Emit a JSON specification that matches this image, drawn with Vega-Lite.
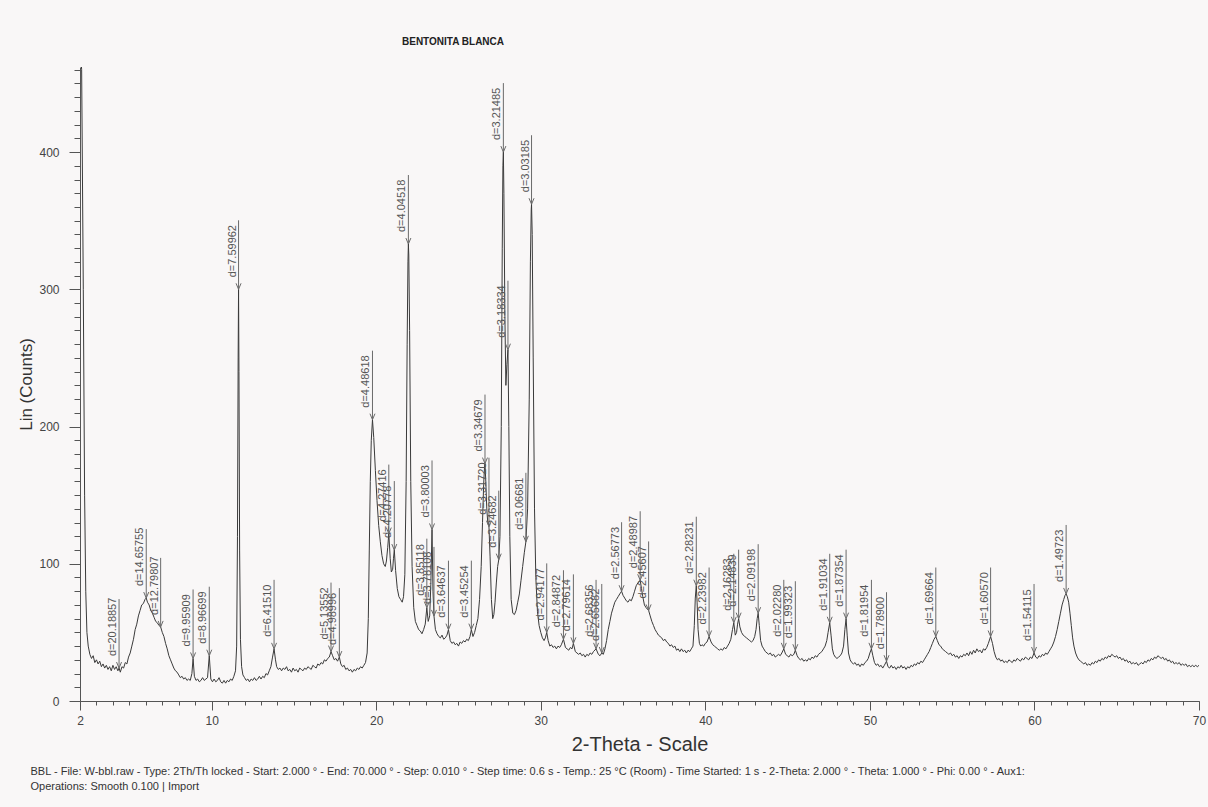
{
  "$schema": "https://vega.github.io/schema/vega-lite/v6.json",
  "width": 1119,
  "height": 634,
  "autosize": {"type": "none"},
  "padding": {"left": 80, "top": 67, "right": 9, "bottom": 106},
  "background": "#f9f7f7",
  "title": {"text": "BENTONITA BLANCA", "frame": "group", "anchor": "start", "dx": 322, "offset": 20, "fontSize": 10, "fontWeight": "bold", "font": "Liberation Sans", "color": "#222"},
  "datasets": {
    "scan": [
      {"t":2.0,"c":480},{"t":2.1,"c":460},{"t":2.2,"c":300},{"t":2.28,"c":150},{"t":2.35,"c":80},{"t":2.42,"c":50},{"t":2.5,"c":40},{"t":2.6,"c":34},{"t":2.7,"c":31},{"t":2.8,"c":33},{"t":2.9,"c":28},{"t":3.0,"c":30},{"t":3.1,"c":27},{"t":3.2,"c":29},{"t":3.3,"c":25},{"t":3.4,"c":27},{"t":3.5,"c":24},{"t":3.6,"c":26},{"t":3.7,"c":23},{"t":3.8,"c":25},{"t":3.9,"c":22},{"t":4.0,"c":26},{"t":4.1,"c":23},{"t":4.2,"c":25},{"t":4.3,"c":22},{"t":4.373,"c":24},{"t":4.45,"c":21},{"t":4.55,"c":25},{"t":4.65,"c":24},{"t":4.75,"c":28},{"t":4.85,"c":27},{"t":4.95,"c":32},{"t":5.05,"c":35},{"t":5.15,"c":40},{"t":5.25,"c":45},{"t":5.35,"c":52},{"t":5.45,"c":56},{"t":5.55,"c":62},{"t":5.65,"c":66},{"t":5.75,"c":70},{"t":5.85,"c":71},{"t":5.95,"c":74},{"t":6.025,"c":75},{"t":6.1,"c":72},{"t":6.2,"c":70},{"t":6.3,"c":66},{"t":6.4,"c":64},{"t":6.5,"c":61},{"t":6.6,"c":58},{"t":6.7,"c":57},{"t":6.8,"c":55},{"t":6.901,"c":54},{"t":7.0,"c":50},{"t":7.1,"c":47},{"t":7.2,"c":42},{"t":7.3,"c":38},{"t":7.4,"c":33},{"t":7.5,"c":30},{"t":7.6,"c":27},{"t":7.7,"c":24},{"t":7.8,"c":22},{"t":7.9,"c":21},{"t":8.0,"c":19},{"t":8.1,"c":17},{"t":8.2,"c":18},{"t":8.3,"c":16},{"t":8.4,"c":17},{"t":8.5,"c":15},{"t":8.6,"c":16},{"t":8.7,"c":15},{"t":8.8,"c":20},{"t":8.872,"c":31},{"t":8.95,"c":18},{"t":9.05,"c":15},{"t":9.15,"c":16},{"t":9.25,"c":14},{"t":9.35,"c":15},{"t":9.45,"c":17},{"t":9.55,"c":15},{"t":9.65,"c":16},{"t":9.75,"c":17},{"t":9.856,"c":33},{"t":9.95,"c":16},{"t":10.05,"c":14},{"t":10.15,"c":16},{"t":10.25,"c":14},{"t":10.35,"c":15},{"t":10.45,"c":17},{"t":10.55,"c":14},{"t":10.65,"c":13},{"t":10.75,"c":15},{"t":10.85,"c":13},{"t":10.95,"c":15},{"t":11.05,"c":14},{"t":11.15,"c":16},{"t":11.25,"c":15},{"t":11.35,"c":18},{"t":11.45,"c":22},{"t":11.52,"c":40},{"t":11.57,"c":120},{"t":11.61,"c":250},{"t":11.635,"c":300},{"t":11.66,"c":240},{"t":11.7,"c":110},{"t":11.75,"c":45},{"t":11.82,"c":25},{"t":11.9,"c":19},{"t":12.0,"c":17},{"t":12.1,"c":15},{"t":12.2,"c":16},{"t":12.3,"c":14},{"t":12.4,"c":16},{"t":12.5,"c":15},{"t":12.6,"c":17},{"t":12.7,"c":15},{"t":12.8,"c":16},{"t":12.9,"c":18},{"t":13.0,"c":16},{"t":13.1,"c":18},{"t":13.2,"c":17},{"t":13.3,"c":20},{"t":13.4,"c":19},{"t":13.5,"c":22},{"t":13.6,"c":25},{"t":13.7,"c":32},{"t":13.793,"c":38},{"t":13.88,"c":30},{"t":13.95,"c":25},{"t":14.05,"c":23},{"t":14.15,"c":24},{"t":14.25,"c":22},{"t":14.35,"c":24},{"t":14.45,"c":23},{"t":14.55,"c":25},{"t":14.65,"c":22},{"t":14.75,"c":23},{"t":14.85,"c":21},{"t":14.95,"c":24},{"t":15.05,"c":22},{"t":15.15,"c":23},{"t":15.25,"c":21},{"t":15.35,"c":24},{"t":15.45,"c":23},{"t":15.55,"c":22},{"t":15.65,"c":24},{"t":15.75,"c":23},{"t":15.85,"c":25},{"t":15.95,"c":24},{"t":16.05,"c":23},{"t":16.15,"c":26},{"t":16.25,"c":25},{"t":16.35,"c":24},{"t":16.45,"c":27},{"t":16.55,"c":26},{"t":16.65,"c":28},{"t":16.75,"c":27},{"t":16.85,"c":30},{"t":16.95,"c":29},{"t":17.05,"c":31},{"t":17.15,"c":32},{"t":17.253,"c":36},{"t":17.35,"c":33},{"t":17.45,"c":30},{"t":17.55,"c":31},{"t":17.65,"c":29},{"t":17.76,"c":32},{"t":17.85,"c":27},{"t":17.95,"c":25},{"t":18.05,"c":26},{"t":18.15,"c":23},{"t":18.25,"c":24},{"t":18.35,"c":22},{"t":18.45,"c":23},{"t":18.55,"c":21},{"t":18.65,"c":23},{"t":18.75,"c":22},{"t":18.85,"c":24},{"t":18.95,"c":23},{"t":19.05,"c":25},{"t":19.15,"c":24},{"t":19.25,"c":26},{"t":19.35,"c":28},{"t":19.45,"c":35},{"t":19.52,"c":60},{"t":19.58,"c":110},{"t":19.64,"c":160},{"t":19.7,"c":190},{"t":19.773,"c":205},{"t":19.85,"c":192},{"t":19.95,"c":168},{"t":20.05,"c":146},{"t":20.15,"c":128},{"t":20.25,"c":116},{"t":20.35,"c":106},{"t":20.45,"c":100},{"t":20.55,"c":98},{"t":20.62,"c":102},{"t":20.7,"c":112},{"t":20.766,"c":122},{"t":20.85,"c":104},{"t":20.92,"c":94},{"t":21.0,"c":96},{"t":21.05,"c":104},{"t":21.1,"c":110},{"t":21.18,"c":95},{"t":21.28,"c":82},{"t":21.38,"c":76},{"t":21.48,"c":74},{"t":21.58,"c":72},{"t":21.66,"c":76},{"t":21.74,"c":92},{"t":21.82,"c":160},{"t":21.88,"c":260},{"t":21.93,"c":320},{"t":21.955,"c":333},{"t":21.98,"c":325},{"t":22.03,"c":270},{"t":22.1,"c":160},{"t":22.18,"c":98},{"t":22.28,"c":68},{"t":22.38,"c":58},{"t":22.48,"c":55},{"t":22.58,"c":52},{"t":22.68,"c":51},{"t":22.78,"c":49},{"t":22.88,"c":52},{"t":22.98,"c":56},{"t":23.077,"c":68},{"t":23.16,"c":58},{"t":23.25,"c":62},{"t":23.32,"c":85},{"t":23.392,"c":125},{"t":23.45,"c":80},{"t":23.511,"c":62},{"t":23.6,"c":52},{"t":23.7,"c":49},{"t":23.8,"c":47},{"t":23.9,"c":46},{"t":24.0,"c":48},{"t":24.1,"c":45},{"t":24.2,"c":46},{"t":24.3,"c":48},{"t":24.391,"c":52},{"t":24.5,"c":44},{"t":24.6,"c":42},{"t":24.7,"c":43},{"t":24.8,"c":41},{"t":24.9,"c":42},{"t":25.0,"c":40},{"t":25.1,"c":43},{"t":25.2,"c":42},{"t":25.3,"c":44},{"t":25.4,"c":43},{"t":25.5,"c":45},{"t":25.6,"c":44},{"t":25.7,"c":47},{"t":25.782,"c":52},{"t":25.88,"c":47},{"t":25.98,"c":50},{"t":26.08,"c":55},{"t":26.18,"c":60},{"t":26.28,"c":74},{"t":26.38,"c":98},{"t":26.46,"c":130},{"t":26.53,"c":158},{"t":26.58,"c":170},{"t":26.611,"c":173},{"t":26.66,"c":160},{"t":26.72,"c":140},{"t":26.78,"c":130},{"t":26.852,"c":127},{"t":26.92,"c":105},{"t":27.0,"c":74},{"t":27.08,"c":60},{"t":27.15,"c":63},{"t":27.22,"c":72},{"t":27.3,"c":86},{"t":27.38,"c":98},{"t":27.447,"c":103},{"t":27.52,"c":120},{"t":27.6,"c":200},{"t":27.66,"c":330},{"t":27.7,"c":390},{"t":27.727,"c":400},{"t":27.76,"c":370},{"t":27.82,"c":280},{"t":27.88,"c":230},{"t":27.94,"c":245},{"t":28.007,"c":256},{"t":28.06,"c":200},{"t":28.12,"c":120},{"t":28.2,"c":74},{"t":28.3,"c":64},{"t":28.4,"c":63},{"t":28.5,"c":66},{"t":28.6,"c":72},{"t":28.7,"c":78},{"t":28.8,"c":88},{"t":28.9,"c":98},{"t":29.0,"c":108},{"t":29.096,"c":116},{"t":29.2,"c":140},{"t":29.3,"c":220},{"t":29.37,"c":320},{"t":29.42,"c":358},{"t":29.439,"c":362},{"t":29.48,"c":340},{"t":29.54,"c":250},{"t":29.62,"c":140},{"t":29.7,"c":90},{"t":29.8,"c":65},{"t":29.9,"c":55},{"t":30.0,"c":50},{"t":30.1,"c":46},{"t":30.2,"c":44},{"t":30.28,"c":46},{"t":30.362,"c":50},{"t":30.45,"c":44},{"t":30.55,"c":40},{"t":30.65,"c":41},{"t":30.75,"c":39},{"t":30.85,"c":40},{"t":30.95,"c":38},{"t":31.05,"c":40},{"t":31.15,"c":39},{"t":31.25,"c":41},{"t":31.379,"c":45},{"t":31.5,"c":39},{"t":31.6,"c":38},{"t":31.7,"c":37},{"t":31.8,"c":39},{"t":31.9,"c":38},{"t":31.983,"c":42},{"t":32.1,"c":36},{"t":32.2,"c":35},{"t":32.3,"c":34},{"t":32.4,"c":35},{"t":32.5,"c":33},{"t":32.6,"c":34},{"t":32.7,"c":32},{"t":32.8,"c":34},{"t":32.9,"c":33},{"t":33.0,"c":35},{"t":33.1,"c":34},{"t":33.2,"c":36},{"t":33.36,"c":38},{"t":33.5,"c":34},{"t":33.6,"c":33},{"t":33.706,"c":35},{"t":33.8,"c":34},{"t":33.9,"c":38},{"t":34.0,"c":44},{"t":34.1,"c":52},{"t":34.2,"c":58},{"t":34.3,"c":64},{"t":34.4,"c":68},{"t":34.5,"c":72},{"t":34.6,"c":74},{"t":34.7,"c":76},{"t":34.8,"c":78},{"t":34.911,"c":80},{"t":35.0,"c":77},{"t":35.1,"c":75},{"t":35.2,"c":73},{"t":35.3,"c":72},{"t":35.4,"c":74},{"t":35.5,"c":73},{"t":35.6,"c":76},{"t":35.7,"c":80},{"t":35.8,"c":84},{"t":35.9,"c":86},{"t":35.97,"c":87},{"t":36.041,"c":88},{"t":36.12,"c":82},{"t":36.2,"c":76},{"t":36.3,"c":70},{"t":36.4,"c":68},{"t":36.554,"c":66},{"t":36.65,"c":62},{"t":36.75,"c":58},{"t":36.85,"c":55},{"t":36.95,"c":52},{"t":37.05,"c":50},{"t":37.15,"c":48},{"t":37.25,"c":47},{"t":37.35,"c":46},{"t":37.45,"c":44},{"t":37.55,"c":45},{"t":37.65,"c":43},{"t":37.75,"c":42},{"t":37.85,"c":40},{"t":37.95,"c":41},{"t":38.05,"c":39},{"t":38.15,"c":40},{"t":38.25,"c":37},{"t":38.35,"c":38},{"t":38.45,"c":36},{"t":38.55,"c":38},{"t":38.65,"c":36},{"t":38.75,"c":37},{"t":38.85,"c":35},{"t":38.95,"c":37},{"t":39.05,"c":36},{"t":39.15,"c":38},{"t":39.25,"c":40},{"t":39.33,"c":55},{"t":39.39,"c":75},{"t":39.451,"c":84},{"t":39.5,"c":72},{"t":39.56,"c":52},{"t":39.64,"c":42},{"t":39.72,"c":40},{"t":39.8,"c":41},{"t":39.9,"c":40},{"t":40.0,"c":42},{"t":40.1,"c":43},{"t":40.23,"c":47},{"t":40.35,"c":43},{"t":40.45,"c":41},{"t":40.55,"c":40},{"t":40.65,"c":39},{"t":40.75,"c":38},{"t":40.85,"c":37},{"t":40.95,"c":38},{"t":41.05,"c":37},{"t":41.15,"c":39},{"t":41.25,"c":38},{"t":41.35,"c":40},{"t":41.45,"c":42},{"t":41.55,"c":45},{"t":41.65,"c":52},{"t":41.73,"c":57},{"t":41.82,"c":48},{"t":41.9,"c":50},{"t":41.96,"c":56},{"t":42.024,"c":60},{"t":42.1,"c":54},{"t":42.2,"c":50},{"t":42.3,"c":48},{"t":42.4,"c":47},{"t":42.5,"c":46},{"t":42.6,"c":45},{"t":42.7,"c":44},{"t":42.8,"c":43},{"t":42.9,"c":44},{"t":43.0,"c":47},{"t":43.08,"c":52},{"t":43.15,"c":60},{"t":43.212,"c":64},{"t":43.28,"c":55},{"t":43.36,"c":44},{"t":43.45,"c":40},{"t":43.55,"c":38},{"t":43.65,"c":36},{"t":43.75,"c":35},{"t":43.85,"c":34},{"t":43.95,"c":35},{"t":44.05,"c":33},{"t":44.15,"c":34},{"t":44.25,"c":32},{"t":44.35,"c":33},{"t":44.45,"c":34},{"t":44.55,"c":33},{"t":44.65,"c":35},{"t":44.768,"c":38},{"t":44.88,"c":34},{"t":44.98,"c":33},{"t":45.08,"c":32},{"t":45.18,"c":34},{"t":45.28,"c":33},{"t":45.38,"c":34},{"t":45.47,"c":37},{"t":45.58,"c":33},{"t":45.68,"c":31},{"t":45.78,"c":30},{"t":45.88,"c":31},{"t":45.98,"c":29},{"t":46.08,"c":30},{"t":46.18,"c":29},{"t":46.28,"c":31},{"t":46.38,"c":30},{"t":46.48,"c":32},{"t":46.58,"c":31},{"t":46.68,"c":33},{"t":46.78,"c":32},{"t":46.88,"c":34},{"t":46.98,"c":35},{"t":47.08,"c":36},{"t":47.18,"c":38},{"t":47.28,"c":40},{"t":47.38,"c":44},{"t":47.46,"c":50},{"t":47.56,"c":57},{"t":47.64,"c":48},{"t":47.72,"c":38},{"t":47.8,"c":34},{"t":47.9,"c":32},{"t":48.0,"c":31},{"t":48.1,"c":32},{"t":48.2,"c":33},{"t":48.3,"c":35},{"t":48.4,"c":40},{"t":48.48,"c":52},{"t":48.554,"c":60},{"t":48.62,"c":48},{"t":48.7,"c":35},{"t":48.8,"c":30},{"t":48.9,"c":28},{"t":49.0,"c":27},{"t":49.1,"c":28},{"t":49.2,"c":26},{"t":49.3,"c":27},{"t":49.4,"c":25},{"t":49.5,"c":27},{"t":49.6,"c":26},{"t":49.7,"c":28},{"t":49.8,"c":29},{"t":49.9,"c":31},{"t":50.0,"c":35},{"t":50.094,"c":38},{"t":50.18,"c":33},{"t":50.28,"c":28},{"t":50.38,"c":26},{"t":50.48,"c":27},{"t":50.58,"c":25},{"t":50.68,"c":26},{"t":50.78,"c":24},{"t":50.88,"c":26},{"t":51.011,"c":29},{"t":51.1,"c":25},{"t":51.2,"c":24},{"t":51.3,"c":26},{"t":51.4,"c":24},{"t":51.5,"c":25},{"t":51.6,"c":23},{"t":51.7,"c":25},{"t":51.8,"c":24},{"t":51.9,"c":26},{"t":52.0,"c":24},{"t":52.1,"c":25},{"t":52.2,"c":23},{"t":52.3,"c":25},{"t":52.4,"c":24},{"t":52.5,"c":26},{"t":52.6,"c":25},{"t":52.7,"c":27},{"t":52.8,"c":26},{"t":52.9,"c":28},{"t":53.0,"c":27},{"t":53.1,"c":29},{"t":53.2,"c":28},{"t":53.3,"c":30},{"t":53.4,"c":32},{"t":53.5,"c":34},{"t":53.6,"c":36},{"t":53.7,"c":39},{"t":53.8,"c":42},{"t":53.9,"c":45},{"t":54.006,"c":47},{"t":54.1,"c":44},{"t":54.2,"c":41},{"t":54.3,"c":40},{"t":54.4,"c":38},{"t":54.5,"c":37},{"t":54.6,"c":36},{"t":54.7,"c":35},{"t":54.8,"c":34},{"t":54.9,"c":35},{"t":55.0,"c":33},{"t":55.1,"c":34},{"t":55.2,"c":32},{"t":55.3,"c":33},{"t":55.4,"c":31},{"t":55.5,"c":33},{"t":55.6,"c":32},{"t":55.7,"c":34},{"t":55.8,"c":33},{"t":55.9,"c":35},{"t":56.0,"c":33},{"t":56.1,"c":36},{"t":56.2,"c":34},{"t":56.3,"c":37},{"t":56.4,"c":35},{"t":56.5,"c":38},{"t":56.6,"c":36},{"t":56.7,"c":37},{"t":56.8,"c":35},{"t":56.9,"c":38},{"t":57.0,"c":37},{"t":57.1,"c":39},{"t":57.2,"c":42},{"t":57.336,"c":47},{"t":57.45,"c":42},{"t":57.55,"c":36},{"t":57.65,"c":32},{"t":57.75,"c":30},{"t":57.85,"c":31},{"t":57.95,"c":29},{"t":58.05,"c":30},{"t":58.15,"c":28},{"t":58.25,"c":29},{"t":58.35,"c":28},{"t":58.45,"c":30},{"t":58.55,"c":29},{"t":58.65,"c":28},{"t":58.75,"c":30},{"t":58.85,"c":29},{"t":58.95,"c":31},{"t":59.05,"c":30},{"t":59.15,"c":29},{"t":59.25,"c":31},{"t":59.35,"c":30},{"t":59.45,"c":32},{"t":59.55,"c":31},{"t":59.65,"c":30},{"t":59.75,"c":32},{"t":59.85,"c":31},{"t":59.976,"c":35},{"t":60.08,"c":32},{"t":60.18,"c":31},{"t":60.28,"c":33},{"t":60.38,"c":32},{"t":60.48,"c":34},{"t":60.58,"c":33},{"t":60.68,"c":35},{"t":60.78,"c":34},{"t":60.88,"c":36},{"t":60.98,"c":38},{"t":61.08,"c":40},{"t":61.18,"c":43},{"t":61.28,"c":47},{"t":61.38,"c":52},{"t":61.48,"c":58},{"t":61.58,"c":64},{"t":61.68,"c":70},{"t":61.78,"c":74},{"t":61.86,"c":77},{"t":61.926,"c":78},{"t":62.0,"c":76},{"t":62.08,"c":72},{"t":62.16,"c":64},{"t":62.24,"c":55},{"t":62.32,"c":46},{"t":62.4,"c":40},{"t":62.5,"c":35},{"t":62.6,"c":32},{"t":62.7,"c":30},{"t":62.8,"c":29},{"t":62.9,"c":28},{"t":63.0,"c":27},{"t":63.1,"c":28},{"t":63.2,"c":26},{"t":63.3,"c":27},{"t":63.4,"c":26},{"t":63.5,"c":28},{"t":63.6,"c":27},{"t":63.7,"c":29},{"t":63.8,"c":28},{"t":63.9,"c":30},{"t":64.0,"c":29},{"t":64.1,"c":31},{"t":64.2,"c":30},{"t":64.3,"c":32},{"t":64.4,"c":31},{"t":64.5,"c":33},{"t":64.6,"c":32},{"t":64.7,"c":34},{"t":64.8,"c":33},{"t":64.9,"c":32},{"t":65.0,"c":33},{"t":65.1,"c":31},{"t":65.2,"c":32},{"t":65.3,"c":30},{"t":65.4,"c":31},{"t":65.5,"c":29},{"t":65.6,"c":30},{"t":65.7,"c":28},{"t":65.8,"c":29},{"t":65.9,"c":27},{"t":66.0,"c":28},{"t":66.1,"c":27},{"t":66.2,"c":28},{"t":66.3,"c":26},{"t":66.4,"c":27},{"t":66.5,"c":28},{"t":66.6,"c":27},{"t":66.7,"c":29},{"t":66.8,"c":28},{"t":66.9,"c":30},{"t":67.0,"c":29},{"t":67.1,"c":31},{"t":67.2,"c":30},{"t":67.3,"c":32},{"t":67.4,"c":31},{"t":67.5,"c":33},{"t":67.6,"c":32},{"t":67.7,"c":31},{"t":67.8,"c":32},{"t":67.9,"c":30},{"t":68.0,"c":31},{"t":68.1,"c":29},{"t":68.2,"c":30},{"t":68.3,"c":28},{"t":68.4,"c":29},{"t":68.5,"c":27},{"t":68.6,"c":28},{"t":68.7,"c":27},{"t":68.8,"c":28},{"t":68.9,"c":26},{"t":69.0,"c":27},{"t":69.1,"c":26},{"t":69.2,"c":27},{"t":69.3,"c":25},{"t":69.4,"c":26},{"t":69.5,"c":25},{"t":69.6,"c":26},{"t":69.7,"c":25},{"t":69.8,"c":26},{"t":69.9,"c":25},{"t":70.0,"c":26}
    ],
    "peaks": [
      {"t":4.373,"c":24,"d":"d=20.18857"},{"t":6.025,"c":75,"d":"d=14.65755"},{"t":6.901,"c":54,"d":"d=12.79807"},{"t":8.872,"c":31,"d":"d=9.95909"},{"t":9.856,"c":33,"d":"d=8.96699"},{"t":11.635,"c":300,"d":"d=7.59962"},{"t":13.793,"c":38,"d":"d=6.41510"},{"t":17.253,"c":36,"d":"d=5.13552"},{"t":17.76,"c":32,"d":"d=4.98996"},{"t":19.773,"c":205,"d":"d=4.48618"},{"t":20.766,"c":122,"d":"d=4.27416"},{"t":21.1,"c":110,"d":"d=4.20778"},{"t":21.955,"c":333,"d":"d=4.04518"},{"t":23.077,"c":68,"d":"d=3.85118"},{"t":23.392,"c":125,"d":"d=3.80003"},{"t":23.511,"c":62,"d":"d=3.78108"},{"t":24.391,"c":52,"d":"d=3.64637"},{"t":25.782,"c":52,"d":"d=3.45254"},{"t":26.611,"c":173,"d":"d=3.34679"},{"t":26.852,"c":127,"d":"d=3.31720"},{"t":27.447,"c":103,"d":"d=3.24682"},{"t":27.727,"c":400,"d":"d=3.21485"},{"t":28.007,"c":256,"d":"d=3.18334"},{"t":29.096,"c":116,"d":"d=3.06681"},{"t":29.439,"c":362,"d":"d=3.03185"},{"t":30.362,"c":50,"d":"d=2.94177"},{"t":31.379,"c":45,"d":"d=2.84872"},{"t":31.983,"c":42,"d":"d=2.79614"},{"t":33.36,"c":38,"d":"d=2.68356"},{"t":33.706,"c":35,"d":"d=2.65682"},{"t":34.911,"c":80,"d":"d=2.56773"},{"t":36.041,"c":88,"d":"d=2.48987"},{"t":36.554,"c":66,"d":"d=2.45607"},{"t":39.451,"c":84,"d":"d=2.28231"},{"t":40.23,"c":47,"d":"d=2.23982"},{"t":41.73,"c":57,"d":"d=2.16283"},{"t":42.024,"c":60,"d":"d=2.14839"},{"t":43.212,"c":64,"d":"d=2.09198"},{"t":44.768,"c":38,"d":"d=2.02280"},{"t":45.47,"c":37,"d":"d=1.99323"},{"t":47.56,"c":57,"d":"d=1.91034"},{"t":48.554,"c":60,"d":"d=1.87354"},{"t":50.094,"c":38,"d":"d=1.81954"},{"t":51.011,"c":29,"d":"d=1.78900"},{"t":54.006,"c":47,"d":"d=1.69664"},{"t":57.336,"c":47,"d":"d=1.60570"},{"t":59.976,"c":35,"d":"d=1.54115"},{"t":61.926,"c":78,"d":"d=1.49723"}
    ]
  },
  "layer": [
    {
      "data": {"name": "scan"},
      "mark": {"type": "line", "color": "#3a3a3a", "strokeWidth": 1, "clip": true},
      "encoding": {
        "x": {"field": "t", "type": "quantitative", "scale": {"domain": [2, 70], "nice": false, "zero": false},
          "axis": {"orient": "bottom", "values": [2, 10, 20, 30, 40, 50, 60, 70], "grid": false, "tickSize": 9, "tickColor": "#555", "domainColor": "#555", "labelFontSize": 12, "labelFont": "Liberation Sans", "labelColor": "#444", "labelPadding": 5, "labelFlush": false, "title": "2-Theta - Scale", "titleFont": "Liberation Sans", "titleFontSize": 20, "titleFontWeight": "normal", "titleColor": "#333", "titlePadding": 8}},
        "y": {"field": "c", "type": "quantitative", "scale": {"domain": [0, 462], "nice": false},
          "axis": {"orient": "left", "values": [0, 100, 200, 300, 400], "grid": false, "tickSize": 11, "tickColor": "#555", "domainColor": "#555", "labelFontSize": 12, "labelFont": "Liberation Sans", "labelColor": "#444", "labelPadding": 10, "title": "Lin (Counts)", "titleFont": "Liberation Sans", "titleFontSize": 17, "titleFontWeight": "normal", "titleColor": "#333", "titlePadding": 3}}
      }
    },
    {
      "data": {"name": "peaks"},
      "mark": {"type": "rule", "color": "#6a6a6a", "strokeWidth": 1, "y2Offset": -69},
      "encoding": {
        "x": {"field": "t", "type": "quantitative", "scale": {"domain": [2, 70], "nice": false, "zero": false},
          "axis": {"orient": "bottom", "values": [2,3,4,5,6,7,8,9,10,11,12,13,14,15,16,17,18,19,20,21,22,23,24,25,26,27,28,29,30,31,32,33,34,35,36,37,38,39,40,41,42,43,44,45,46,47,48,49,50,51,52,53,54,55,56,57,58,59,60,61,62,63,64,65,66,67,68,69,70], "tickSize": 4, "tickColor": "#555", "labels": false, "domain": false, "grid": false, "title": null}},
        "y": {"field": "c", "type": "quantitative", "scale": {"domain": [0, 462], "nice": false},
          "axis": {"orient": "left", "values": [0,10,20,30,40,50,60,70,80,90,100,110,120,130,140,150,160,170,180,190,200,210,220,230,240,250,260,270,280,290,300,310,320,330,340,350,360,370,380,390,400,410,420,430,440,450,460], "tickSize": 6, "tickColor": "#555", "labels": false, "domain": false, "grid": false, "title": null}},
        "y2": {"field": "c"}
      }
    },
    {
      "data": {"name": "peaks"},
      "mark": {"type": "text", "angle": 270, "align": "left", "baseline": "bottom", "yOffset": -12, "xOffset": -1, "fontSize": 11, "font": "Liberation Sans", "color": "#555"},
      "encoding": {
        "x": {"field": "t", "type": "quantitative", "scale": {"domain": [2, 70], "nice": false, "zero": false},
          "axis": {"orient": "bottom", "ticks": false, "labels": false, "domain": false, "grid": false,
            "title": ["BBL - File: W-bbl.raw - Type: 2Th/Th locked - Start: 2.000 ° - End: 70.000 ° - Step: 0.010 ° - Step time: 0.6 s - Temp.: 25 °C (Room) - Time Started: 1 s - 2-Theta: 2.000 ° - Theta: 1.000 ° - Phi: 0.00 ° - Aux1:", "Operations: Smooth 0.100 | Import"],
            "titleFont": "Liberation Sans", "titleFontSize": 11, "titleFontWeight": "normal", "titleColor": "#333", "titleAnchor": "start", "titleAlign": "left", "titleBaseline": "top", "titleX": -50, "titleY": 64, "titleLineHeight": 15}},
        "y": {"field": "c", "type": "quantitative", "scale": {"domain": [0, 462], "nice": false}, "axis": null},
        "text": {"field": "d"}
      }
    },
    {
      "data": {"name": "peaks"},
      "mark": {"type": "point", "shape": "M-1,-2.4L0,0L1,-2.4", "filled": false, "size": 25, "stroke": "#6a6a6a", "strokeWidth": 1, "opacity": 1},
      "encoding": {
        "x": {"field": "t", "type": "quantitative", "scale": {"domain": [2, 70], "nice": false, "zero": false}, "axis": null},
        "y": {"field": "c", "type": "quantitative", "scale": {"domain": [0, 462], "nice": false}, "axis": null}
      }
    }
  ],
  "resolve": {"axis": {"x": "independent", "y": "independent"}},
  "config": {"view": {"stroke": null}}
}
